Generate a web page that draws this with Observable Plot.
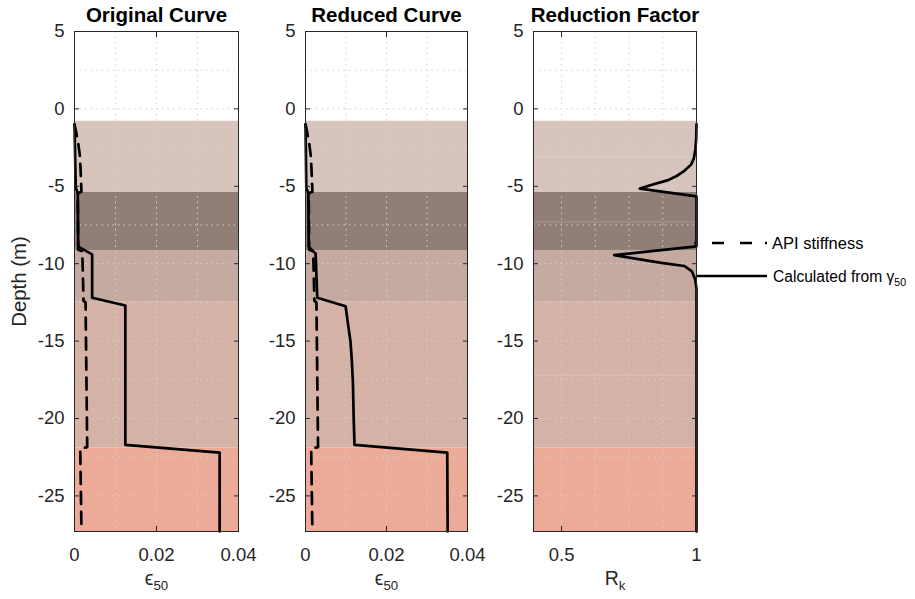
<!DOCTYPE html>
<html><head><meta charset="utf-8">
<script src="https://cdn.jsdelivr.net/npm/d3@7"></script>
<script src="https://cdn.jsdelivr.net/npm/@observablehq/plot@0.6"></script>
<style>
body{margin:0;background:#fff;}
#chart{position:relative;width:915px;height:599px;overflow:hidden;background:#fff;font-family:"Liberation Sans",Arial,Helvetica,sans-serif;}
#chart > svg{position:absolute;top:0;}
</style></head><body><div id="chart"></div>
<script>
// ---- data ----
const layerTop    = [-0.8, -5.4, -9.15, -12.45, -21.9];
const layerBottom = [-5.4, -9.15, -12.45, -21.9, -27.3];
const layerColor  = ["#d7c4bd", "#917e76", "#c4aaa1", "#d5b2a6", "#ebab98"];
const subLayerDepth = [-3.1, -7.3, -17.2];

const origDepth = [-1.0, -5.1, -5.45, -8.9, -9.4, -12.2, -12.7, -21.7, -22.2, -27.3];
const origEps   = [0.0, 0.0003, 0.0008, 0.0009, 0.0043, 0.0043, 0.0124, 0.0124, 0.0354, 0.0354];

const redDepth = [-1.0, -5.1, -5.45, -8.9, -9.35, -12.2, -12.75, -13.9, -15.0, -16.1, -17.6, -20.0, -21.7, -22.2, -27.3];
const redEps   = [0.0, 0.0002, 0.0007, 0.0008, 0.0025, 0.0029, 0.0099, 0.0105, 0.0111, 0.0114, 0.0117, 0.0119, 0.0121, 0.0350, 0.0351];

const apiDepth = [-1.0, -1.5, -2.2, -3.0, -4.0, -5.35, -5.45, -9.1, -9.2, -12.4, -12.5, -21.85, -21.95, -27.3];
const apiEps   = [0.0, 0.0004, 0.0009, 0.0013, 0.0015, 0.0017, 0.0008, 0.0009, 0.0019, 0.0022, 0.0027, 0.0031, 0.0014, 0.0017];

const rkDepth = [-1.0, -1.9, -2.6, -3.2, -3.6, -4.0, -4.3, -4.6, -4.9, -5.15, -5.65, -8.88, -9.45, -9.95, -10.15, -10.5, -11.0, -11.6, -27.3];
const rkVal   = [1.0, 0.999, 0.996, 0.99, 0.98, 0.955, 0.93, 0.895, 0.835, 0.79, 1.0, 1.0, 0.695, 0.87, 0.955, 0.983, 0.995, 1.0, 1.0];

const yTicks = [5, 0, -5, -10, -15, -20, -25];
const yGrid  = [2.5, 0, -2.5, -5, -7.5, -10, -12.5, -15, -17.5, -20, -22.5, -25];
const epsTicks = [0, 0.02, 0.04];
const epsGrid  = [0.01, 0.02, 0.03];
const rkTicks  = [0.5, 1];
const rkGrid   = [0.5, 0.625, 0.75, 0.875];

const titles  = ["Original Curve", "Reduced Curve", "Reduction Factor"];
const xLabels = ["ϵ_50", "ϵ_50", "R_k"];
const legendLabels = ["API stiffness", "Calculated from γ_50"];

// ---- tables ----
const layers = layerTop.map((t, i) => ({top: t, bottom: layerBottom[i], color: layerColor[i]}));
const zip = (ys, xs) => ys.map((y, i) => ({y, x: xs[i]}));
const orig = zip(origDepth, origEps);
const red  = zip(redDepth, redEps);
const api  = zip(apiDepth, apiEps);
const rk   = zip(rkDepth, rkVal);

const FONT = '"Liberation Sans", Arial, Helvetica, sans-serif';
const INK = "#262626";
const SW = 2.7;
const DASH = "12,8";

function subscriptify(root) {
  root.querySelectorAll("text").forEach(t => {
    const s = t.textContent;
    if (s.includes("_")) {
      const [a, b] = s.split("_");
      t.textContent = "";
      const ns = "http://www.w3.org/2000/svg";
      const t1 = document.createElementNS(ns, "tspan"); t1.textContent = a;
      const t2 = document.createElementNS(ns, "tspan"); t2.textContent = b;
      t2.setAttribute("dy", "0.42em"); t2.setAttribute("font-size", "0.68em");
      t.appendChild(t1); t.appendChild(t2);
    }
  });
}

function panel({left, width, xDomain, xTicks, xGrid, title, xLabel, solid, dashed, subRules, yLabel}) {
  const marks = [
    Plot.rect(layers, {y1: "top", y2: "bottom", fill: "color"}),
  ];
  if (subRules) marks.push(Plot.ruleY(subRules, {y: d => d, stroke: "#ffffff", strokeOpacity: 0.22, strokeWidth: 1}));
  marks.push(
    Plot.gridY(yGrid, {stroke: "#d2d2d2", strokeOpacity: 1, strokeWidth: 1, strokeDasharray: "1.5,4"}),
    Plot.gridX(xGrid, {stroke: "#d2d2d2", strokeOpacity: 1, strokeWidth: 1, strokeDasharray: "1.5,4"})
  );
  if (dashed) marks.push(Plot.line(dashed, {x: "x", y: "y", stroke: "#000", strokeWidth: SW, strokeDasharray: DASH}));
  marks.push(
    Plot.line(solid, {x: "x", y: "y", stroke: "#000", strokeWidth: SW}),
    Plot.frame({stroke: INK, strokeWidth: 1}),
    Plot.axisY({ticks: yTicks, tickFormat: d => String(d), tickSize: 0, tickPadding: 10, label: null, fill: INK}),
    Plot.axisY({ticks: yTicks, tickSize: -5, fill: "none", label: null, stroke: INK}),
    Plot.axisY({anchor: "right", ticks: yTicks, tickSize: -5, fill: "none", label: null, stroke: INK}),
    Plot.axisX({ticks: xTicks, tickFormat: d => String(d), tickSize: 0, tickPadding: 16, label: null, fill: INK}),
    Plot.axisX({ticks: xTicks, tickSize: -5, fill: "none", label: null, stroke: INK}),
    Plot.axisX({anchor: "top", ticks: xTicks, tickSize: -5, fill: "none", label: null, stroke: INK}),
    Plot.text([title], {frameAnchor: "top", dy: -16, text: d => d, fontSize: 20.5, fontWeight: "bold", fill: "#000", textAnchor: "middle", lineAnchor: "middle"}),
    Plot.text([xLabel], {frameAnchor: "bottom", dy: 47, text: d => d, fontSize: 19.5, fill: INK, textAnchor: "middle", lineAnchor: "middle"})
  );
  if (yLabel) marks.push(Plot.text([yLabel], {frameAnchor: "left", dx: -55, rotate: -90, text: d => d, fontSize: 20.4, fill: INK, textAnchor: "middle", lineAnchor: "middle"}));
  const svg = Plot.plot({
    width, height: 599,
    marginTop: 31, marginBottom: 68, marginLeft: 74, marginRight: 4,
    x: {domain: xDomain},
    y: {domain: [-27.3, 5]},
    color: {type: "identity"},
    style: {fontSize: "18.5px", fontFamily: FONT, color: INK, background: "transparent", overflow: "visible"},
    marks
  });
  svg.style.left = left + "px";
  subscriptify(svg);
  return svg;
}

const chart = document.getElementById("chart");
chart.appendChild(panel({left: 0, width: 242, xDomain: [0, 0.04], xTicks: epsTicks, xGrid: epsGrid, title: titles[0], xLabel: xLabels[0], solid: orig, dashed: api, yLabel: "Depth (m)"}));
chart.appendChild(panel({left: 231, width: 240, xDomain: [0, 0.04], xTicks: epsTicks, xGrid: epsGrid, title: titles[1], xLabel: xLabels[1], solid: red, dashed: api}));
chart.appendChild(panel({left: 459, width: 241, xDomain: [0.396, 1], xTicks: rkTicks, xGrid: rkGrid, title: titles[2], xLabel: xLabels[2], solid: rk, subRules: subLayerDepth}));

// ---- legend ----
const lg = d3.select(chart).append("svg")
  .attr("width", 915).attr("height", 599).style("left", "0px")
  .style("font-family", FONT).style("overflow", "visible");
lg.append("line").attr("x1", 694).attr("x2", 767).attr("y1", 243).attr("y2", 243)
  .attr("stroke", "#000").attr("stroke-width", SW).attr("stroke-dasharray", "2,16,12,16,12,13,2");
lg.append("line").attr("x1", 697).attr("x2", 767).attr("y1", 276).attr("y2", 276)
  .attr("stroke", "#000").attr("stroke-width", SW);
lg.append("text").attr("x", 772).attr("y", 249).attr("font-size", 16.5).attr("fill", "#000").text(legendLabels[0]);
lg.append("text").attr("x", 773).attr("y", 282).attr("font-size", 15.6).attr("fill", "#000").text(legendLabels[1]);
subscriptify(lg.node());
</script></body></html>
